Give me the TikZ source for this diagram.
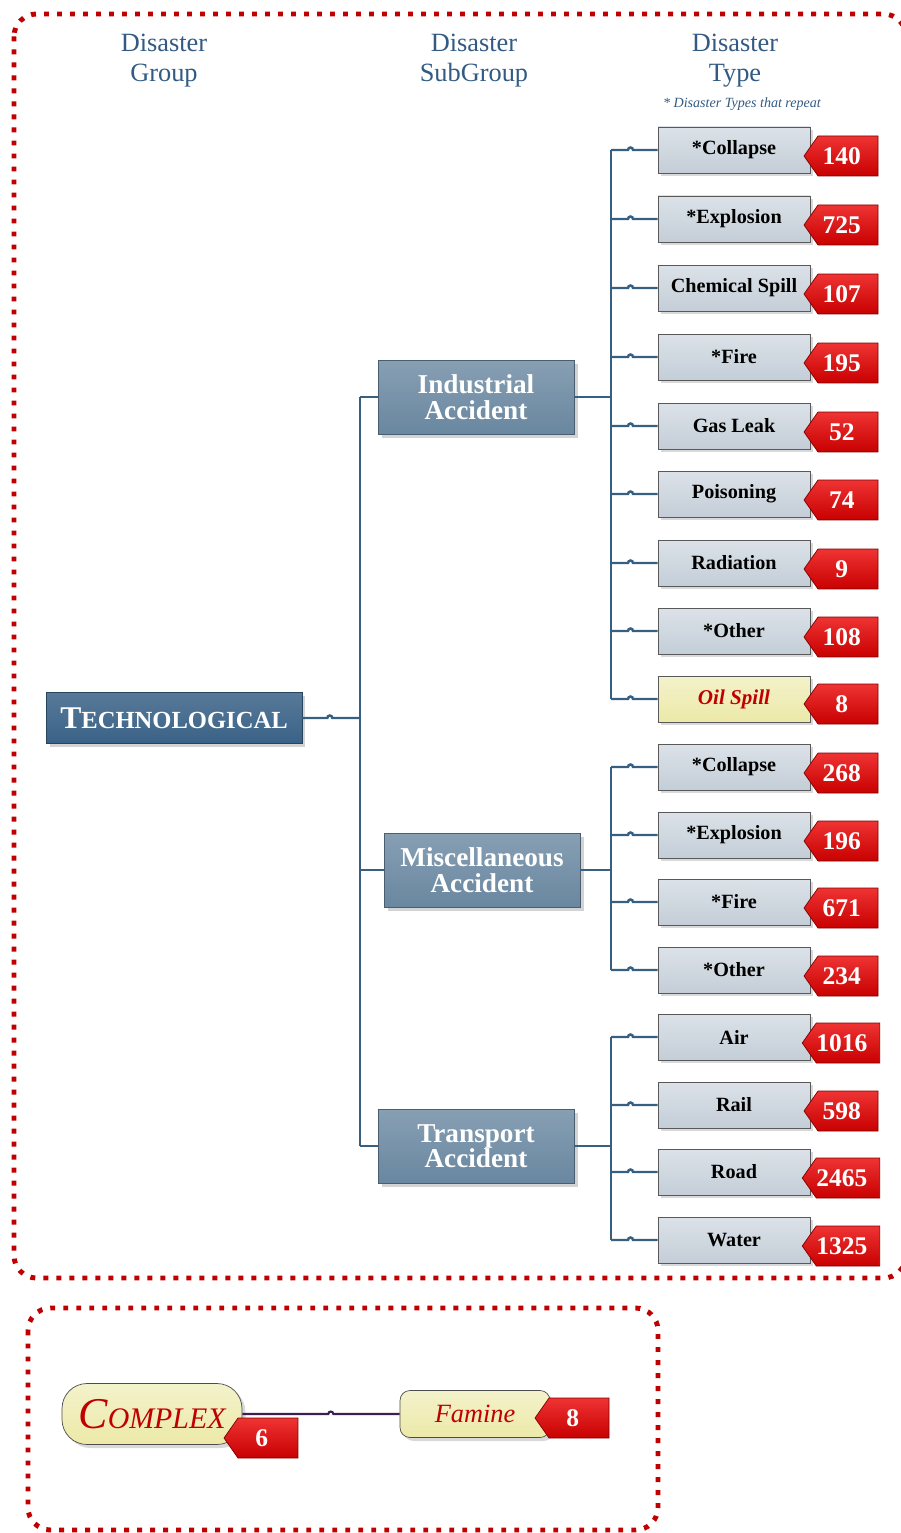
\documentclass[tikz,border=0pt]{standalone}
\usepackage{fontspec}
\setmainfont{Liberation Serif}
\usepackage{xcolor}
\definecolor{dshead}{RGB}{50,90,130}
\definecolor{dstech}{RGB}{58,98,135}
\definecolor{dssub}{RGB}{105,135,160}
\definecolor{dstype}{RGB}{196,206,216}
\definecolor{dsoil}{RGB}{236,233,168}
\definecolor{dscount}{RGB}{235,0,0}
\definecolor{dslink}{RGB}{55,95,130}
\definecolor{dsred}{RGB}{192,0,0}
\definecolor{dscx}{RGB}{60,30,80}
\usepackage{tikz}
\usetikzlibrary{positioning, shapes.symbols, shadows}

\tikzset{
  hdr/.style={align=center, text=dshead, font=\fontsize{15}{17}\selectfont},
  grpbox/.style={draw=dstech!70!black, top color=dstech!85!white, bottom color=dstech,
                 minimum width=5.12cm, minimum height=1.02cm, text=white,
                 drop shadow={shadow xshift=2pt, shadow yshift=-2pt, opacity=0.35}},
  subbox/.style={draw=dssub!70!black, top color=dssub!80!white, bottom color=dssub,
                 minimum width=3.92cm, minimum height=1.48cm, text=white, align=center,
                 font=\bfseries\fontsize{15.5}{14.5}\selectfont,
                 drop shadow={shadow xshift=2pt, shadow yshift=-2pt, opacity=0.35}},
  typebox/.style={draw=gray!70!black, top color=dstype!60!white, bottom color=dstype,
                  minimum width=3.04cm, minimum height=0.92cm, inner sep=1pt,
                  font=\bfseries\fontsize{11.5}{13}\selectfont,
                  drop shadow={shadow xshift=1.5pt, shadow yshift=-1.5pt, opacity=0.3}},
  oilbox/.style={typebox, top color=dsoil!60!white, bottom color=dsoil, text=dsred,
                 font=\bfseries\itshape\fontsize{12}{13}\selectfont},
  cntbadge/.style={signal, signal to=west, signal pointer angle=110,
                   draw=dscount!55!black, top color=dscount!80!white, bottom color=dscount!85!black,
                   minimum width=1.48cm, minimum height=0.8cm, inner sep=0pt, text=white,
                   font=\bfseries\fontsize{14.5}{15}\selectfont,
                   execute at end node=\hspace{0.25cm}},
  cxbox/.style={draw=gray!60!black, top color=dsoil!60!white, bottom color=dsoil, text=dsred,
                font=\itshape, drop shadow={shadow xshift=2pt, shadow yshift=-2pt, opacity=0.3}},
  link/.style={dslink, line width=1.4pt},
  dotframe/.style={dsred, line width=2.8pt, dash pattern=on 2.8pt off 4.6pt, rounded corners=0.45cm},
}

\begin{document}
\begin{tikzpicture}[x=0.02cm, y=-0.02cm]
  \useasboundingbox (0,0) rectangle (901,1533);

  % Frames
  \draw[dotframe] (14,14) rectangle (906,1278);
  \draw[dotframe] (28,1308) rectangle (658,1530);

  % Column headings
  \node[hdr] (hgrp) at (164,61) {Disaster\\Group};
  \node[hdr] (hsub) at (474,61) {Disaster\\SubGroup};
  \node[hdr] (htype) at (735,61) {Disaster\\Type};
  \node[text=dshead, font=\itshape\fontsize{8}{9}\selectfont] (hnote) at (742,104)
        {* Disaster Types that repeat};

  % Group and subgroups
  \node[grpbox, font=\bfseries] (tech) at (174,718)
        {{\fontsize{18}{20}\selectfont T}\fontsize{14}{16}\selectfont ECHNOLOGICAL};
  \node[subbox] (ind) at (476,397) {Industrial\\Accident};
  \node[subbox] (misc) at (482,870) {Miscellaneous\\Accident};
  \node[subbox] (trans) at (476,1146) {Transport\\Accident};

  \coordinate (gbus) at (360,718);
  \coordinate (ibus) at (611,397);
  \coordinate (mbus) at (611,870);
  \coordinate (tbus) at (611,1146);

  \draw[link] (tech.east) -- ++(25,0) arc[start angle=180, end angle=0, radius=0.05cm] -- (gbus);
  \draw[link] (gbus |- ind.west) -- (gbus |- trans.west);
  \foreach \s in {ind, misc, trans}
    \draw[link] (gbus |- \s.west) -- (\s.west);

  % Industrial accident types
  \foreach \i/\y/\t/\v in {1/150/{*Collapse}/140, 2/219/{*Explosion}/725,
                           3/288/{Chemical Spill}/107, 4/357/{*Fire}/195,
                           5/426/{Gas Leak}/52, 6/494/Poisoning/74,
                           7/563/Radiation/9, 8/631/{*Other}/108} {
      \node[typebox] (i\i) at (734,\y) {\t};
      \node[cntbadge] (ib\i) at (848,\y+6) {\v};
      \draw[link] (ibus |- i\i.west) -- ++(17,0) arc[start angle=180, end angle=0, radius=0.05cm]
            -- (i\i.west);
  }
  \node[oilbox] (i9) at (734,699) {Oil Spill};
  \node[cntbadge] (ib9) at (848,704) {8};
  \draw[link] (ibus |- i9.west) -- ++(17,0) arc[start angle=180, end angle=0, radius=0.05cm]
        -- (i9.west);
  \draw[link] (ind.east) -- (ibus);
  \draw[link] (ibus |- i1.west) -- (ibus |- i9.west);

  % Miscellaneous accident types
  \foreach \i/\y/\t/\v in {1/767/{*Collapse}/268, 2/835/{*Explosion}/196,
                           3/902/{*Fire}/671, 4/970/{*Other}/234} {
      \node[typebox] (m\i) at (734,\y) {\t};
      \node[cntbadge] (mb\i) at (848,\y+6) {\v};
      \draw[link] (mbus |- m\i.west) -- ++(17,0) arc[start angle=180, end angle=0, radius=0.05cm]
            -- (m\i.west);
  }
  \draw[link] (misc.east) -- (mbus);
  \draw[link] (mbus |- m1.west) -- (mbus |- m4.west);

  % Transport accident types
  \foreach \i/\y/\t/\v in {1/1037/Air/1016, 2/1105/Rail/598,
                           3/1172/Road/2465, 4/1240/Water/1325} {
      \node[typebox] (r\i) at (734,\y) {\t};
      \node[cntbadge] (rb\i) at (848,\y+6) {\v};
      \draw[link] (tbus |- r\i.west) -- ++(17,0) arc[start angle=180, end angle=0, radius=0.05cm]
            -- (r\i.west);
  }
  \draw[link] (trans.east) -- (tbus);
  \draw[link] (tbus |- r1.west) -- (tbus |- r4.west);

  % Complex group
  \node[cxbox, rounded corners=0.5cm, minimum width=3.6cm, minimum height=1.22cm] (cx) at (152,1414)
        {{\fontsize{25}{27}\selectfont C}\fontsize{17}{19}\selectfont OMPLEX};
  \node[cxbox, rounded corners=0.2cm, minimum width=3cm, minimum height=0.94cm,
        font=\itshape\fontsize{15}{17}\selectfont] (fam) at (475,1414) {Famine};
  \draw[dscx, line width=1.2pt] (cx.east) -- ++(86,0) arc[start angle=180, end angle=0, radius=0.05cm]
        -- (fam.west);
  \node[cntbadge] (cxb) at (268,1438) {6};
  \node[cntbadge] (famb) at (579,1418) {8};
\end{tikzpicture}
\end{document}
